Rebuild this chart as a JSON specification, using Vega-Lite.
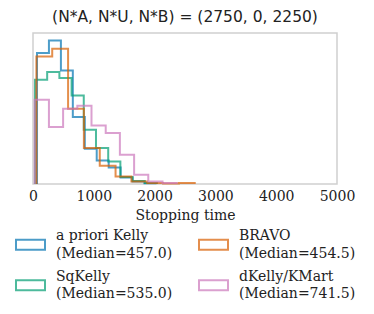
{
  "$schema": "https://vega.github.io/schema/vega-lite/v6.json",
  "width": 304,
  "height": 151,
  "autosize": {"type": "none"},
  "padding": {"left": 33, "top": 33, "right": 37, "bottom": 130},
  "background": "white",
  "title": {"text": "(N*A, N*U, N*B) = (2750, 0, 2250)", "font": "DejaVu Sans", "fontSize": 15.5, "fontWeight": "normal", "color": "#222222", "offset": 8, "anchor": "middle"},
  "config": {"view": {"stroke": "#d0d0d0", "strokeWidth": 1.5}},
  "data": {"values": [
    {"s": "a priori Kelly", "t": 66, "d": 0, "o": 0},
    {"s": "a priori Kelly", "t": 66, "d": 131, "o": 1},
    {"s": "a priori Kelly", "t": 262, "d": 143.6, "o": 2},
    {"s": "a priori Kelly", "t": 459, "d": 113.6, "o": 3},
    {"s": "a priori Kelly", "t": 655, "d": 67, "o": 4},
    {"s": "a priori Kelly", "t": 852, "d": 35.3, "o": 5},
    {"s": "a priori Kelly", "t": 1048, "d": 23.5, "o": 6},
    {"s": "a priori Kelly", "t": 1245, "d": 16.5, "o": 7},
    {"s": "a priori Kelly", "t": 1441, "d": 6.5, "o": 8},
    {"s": "a priori Kelly", "t": 1637, "d": 2.5, "o": 9},
    {"s": "a priori Kelly", "t": 1834, "d": 0.8, "o": 10},
    {"s": "a priori Kelly", "t": 2030, "d": 0, "o": 11},
    {"s": "SqKelly", "t": 33, "d": 0, "o": 0},
    {"s": "SqKelly", "t": 33, "d": 104.3, "o": 1},
    {"s": "SqKelly", "t": 233, "d": 112, "o": 2},
    {"s": "SqKelly", "t": 434, "d": 106, "o": 3},
    {"s": "SqKelly", "t": 635, "d": 88.6, "o": 4},
    {"s": "SqKelly", "t": 835, "d": 54.3, "o": 5},
    {"s": "SqKelly", "t": 1036, "d": 36, "o": 6},
    {"s": "SqKelly", "t": 1237, "d": 22.6, "o": 7},
    {"s": "SqKelly", "t": 1437, "d": 7, "o": 8},
    {"s": "SqKelly", "t": 1638, "d": 3, "o": 9},
    {"s": "SqKelly", "t": 1838, "d": 1, "o": 10},
    {"s": "SqKelly", "t": 2039, "d": 0, "o": 11},
    {"s": "BRAVO", "t": 56, "d": 0, "o": 0},
    {"s": "BRAVO", "t": 56, "d": 127.6, "o": 1},
    {"s": "BRAVO", "t": 316, "d": 135.3, "o": 2},
    {"s": "BRAVO", "t": 577, "d": 75.3, "o": 3},
    {"s": "BRAVO", "t": 837, "d": 36, "o": 4},
    {"s": "BRAVO", "t": 1098, "d": 18.3, "o": 5},
    {"s": "BRAVO", "t": 1358, "d": 7.6, "o": 6},
    {"s": "BRAVO", "t": 1619, "d": 2.6, "o": 7},
    {"s": "BRAVO", "t": 1879, "d": 1, "o": 8},
    {"s": "BRAVO", "t": 2139, "d": 0.5, "o": 9},
    {"s": "BRAVO", "t": 2400, "d": 1, "o": 10},
    {"s": "BRAVO", "t": 2660, "d": 0, "o": 11},
    {"s": "dKelly/KMart", "t": 28, "d": 0, "o": 0},
    {"s": "dKelly/KMart", "t": 28, "d": 84.3, "o": 1},
    {"s": "dKelly/KMart", "t": 262, "d": 57, "o": 2},
    {"s": "dKelly/KMart", "t": 495, "d": 75.3, "o": 3},
    {"s": "dKelly/KMart", "t": 729, "d": 78.3, "o": 4},
    {"s": "dKelly/KMart", "t": 962, "d": 58.6, "o": 5},
    {"s": "dKelly/KMart", "t": 1196, "d": 51, "o": 6},
    {"s": "dKelly/KMart", "t": 1429, "d": 29.3, "o": 7},
    {"s": "dKelly/KMart", "t": 1663, "d": 9.3, "o": 8},
    {"s": "dKelly/KMart", "t": 1896, "d": 2.6, "o": 9},
    {"s": "dKelly/KMart", "t": 2130, "d": 1, "o": 10},
    {"s": "dKelly/KMart", "t": 2364, "d": 0, "o": 11}
  ]},
  "mark": {"type": "line", "interpolate": "step-after", "strokeWidth": 2, "opacity": 0.7},
  "encoding": {
    "x": {"field": "t", "type": "quantitative", "scale": {"domain": [0, 5000], "nice": false, "zero": false},
      "axis": {"title": "Stopping time", "values": [0, 1000, 2000, 3000, 4000, 5000], "format": "d", "grid": false, "ticks": false, "domain": false,
        "labelFont": "DejaVu Serif", "labelFontSize": 14, "labelColor": "#222222", "labelPadding": 5, "labelFlush": false,
        "titleFont": "DejaVu Serif", "titleFontSize": 14, "titleFontWeight": "normal", "titleColor": "#222222", "titlePadding": 5}},
    "y": {"field": "d", "type": "quantitative", "scale": {"domain": [0, 151], "nice": false}, "axis": null},
    "order": {"field": "o", "type": "quantitative"},
    "color": {"field": "s", "type": "nominal",
      "scale": {"domain": ["a priori Kelly", "BRAVO", "SqKelly", "dKelly/KMart"], "range": ["#0173b2", "#d95f02", "#029e73", "#cc78bc"]},
      "legend": {"title": null, "orient": "none", "legendX": -18, "legendY": 187, "columns": 2, "direction": "horizontal",
        "symbolType": "M-1,0.265H1V0.955H-1Z", "symbolSize": 841, "symbolStrokeWidth": 2, "symbolFillColor": "transparent", "symbolOpacity": 0.7,
        "labelFont": "DejaVu Serif", "labelFontSize": 14, "labelColor": "#222222", "labelOffset": 10, "columnPadding": 22, "rowPadding": -2, "labelLimit": 200,
        "encode": {"labels": {"update": {"lineHeight": {"value": 17.7}}}},
        "labelExpr": "datum.label == 'a priori Kelly' ? ['a priori Kelly', '(Median=457.0)'] : datum.label == 'BRAVO' ? ['BRAVO', '(Median=454.5)'] : datum.label == 'SqKelly' ? ['SqKelly', '(Median=535.0)'] : ['dKelly/KMart', '(Median=741.5)']"}}
  }
}
